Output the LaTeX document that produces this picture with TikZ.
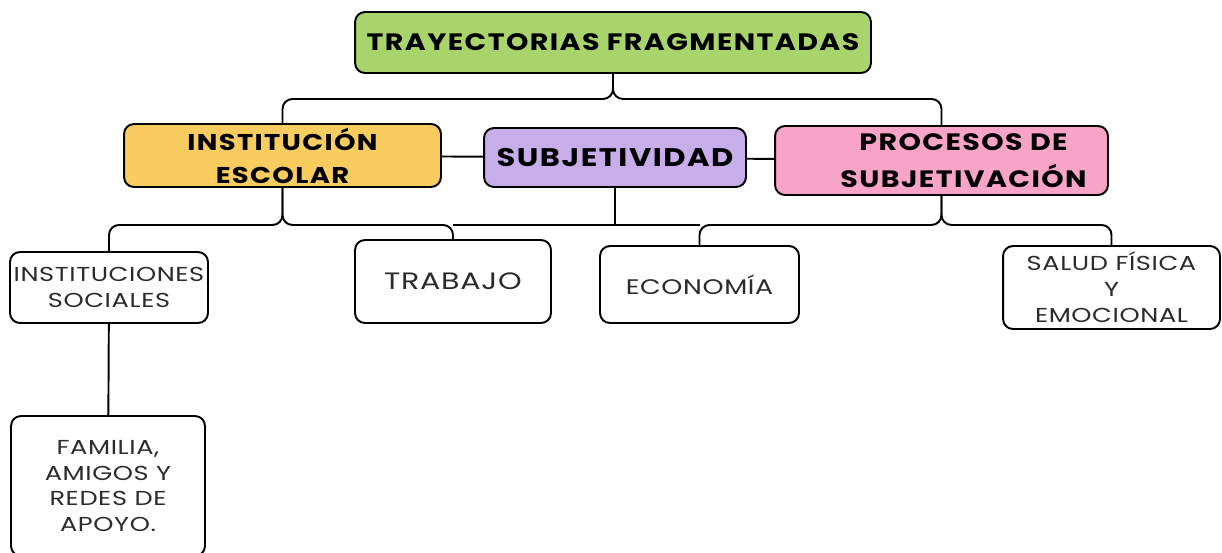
\documentclass[tikz,border=0pt]{standalone}
\usepackage{fontspec}
\usepackage{tikz}
\newfontfamily\headfont{Poppins}[FakeStretch=1.2, LetterSpace=6]
\newfontfamily\bodyfont{Poppins}[FakeStretch=1.27, LetterSpace=3]
\definecolor{tgreen}{HTML}{A9D46B}
\definecolor{tyellow}{HTML}{F9CC5F}
\definecolor{tpurple}{HTML}{C7AEEA}
\definecolor{tpink}{HTML}{F8A4C6}
\definecolor{tink}{HTML}{2B2B2B}
\tikzset{
	headbox/.style={draw=black, line width=1.1pt, rounded corners=0.2cm, align=center,
		font=\headfont\bfseries\fontsize{13.5}{18.7}\selectfont, inner sep=0pt},
	leafbox/.style={draw=black, line width=1.1pt, rounded corners=0.2cm, fill=white, align=center,
		text=tink, font=\bodyfont\fontsize{11.5}{14.7}\selectfont, inner sep=0pt},
	branch/.style={draw=black, line width=1.1pt, rounded corners=0.2cm},
}

\begin{document}
\begin{tikzpicture}[x=0.02cm,y=-0.02cm]
	
	\useasboundingbox (0,0) rectangle (1222,552);
	
	\node[headbox, fill=tgreen, minimum width=10.32cm, minimum height=1.22cm] (tray) at (613,42.5) {TRAYECTORIAS FRAGMENTADAS};
	\node[headbox, fill=tyellow, minimum width=6.34cm, minimum height=1.26cm, font=\headfont\bfseries\fontsize{13}{18.7}\selectfont] (inst) at (282.5,155.5) {INSTITUCIÓN\\ESCOLAR};
	\node[headbox, fill=tpurple, minimum width=5.24cm, minimum height=1.18cm, font=\headfont\bfseries\fontsize{14.5}{18}\selectfont] (subj) at (615,157.5) {SUBJETIVIDAD};
	\node[headbox, fill=tpink, minimum width=6.66cm, minimum height=1.38cm] (proc) at (941.5,160.5) {};
	\node[headbox, draw=none, font=\headfont\bfseries\fontsize{13.5}{21}\selectfont] (proctext) at ([xshift=0.44cm]proc.center) {PROCESOS DE\\SUBJETIVACIÓN};
	
	\node[leafbox, minimum width=3.96cm, minimum height=1.42cm] (isoc) at (109,287.5) {INSTITUCIONES\\SOCIALES};
	\node[leafbox, minimum width=3.92cm, minimum height=1.66cm, font=\bodyfont\fontsize{13.5}{16}\selectfont] (trab) at (453,281.5) {TRABAJO};
	\node[leafbox, minimum width=3.98cm, minimum height=1.54cm, font=\bodyfont\fontsize{12}{15}\selectfont] (econ) at (699.5,284.5) {ECONOMÍA};
	\node[leafbox, minimum width=4.34cm, minimum height=1.66cm] (salud) at (1111.5,287.5) {SALUD FÍSICA\\Y\\EMOCIONAL};
	\node[leafbox, minimum width=3.88cm, minimum height=2.8cm] (fam) at (108,486) {FAMILIA,\\AMIGOS Y\\REDES DE\\APOYO.};
	
	\draw[branch] (tray.south) -- ++(0,25) -| (inst.north);
	\draw[branch] (tray.south) -- ++(0,25) -| (proc.north);
	
	\draw[branch] (inst) -- (subj);
	\draw[branch] (subj) -- (proc);
	
	\draw[branch] (inst.south) -- ++(0,37) -| (isoc.north);
	\draw[branch] (inst.south) -- ++(0,37) -| (trab.north);
	\draw[branch] (proc.south) -- ++(0,29) -| (econ.north);
	\draw[branch] (proc.south) -- ++(0,29) -| (salud.north);
	\draw[branch] (subj.south) -- ++(0,37) coordinate (hub);
	\draw[branch] (hub -| trab.north) -- (hub -| econ.north);
	
	\draw[branch] (isoc) -- (fam);
	
	\end{tikzpicture}
\end{document}
